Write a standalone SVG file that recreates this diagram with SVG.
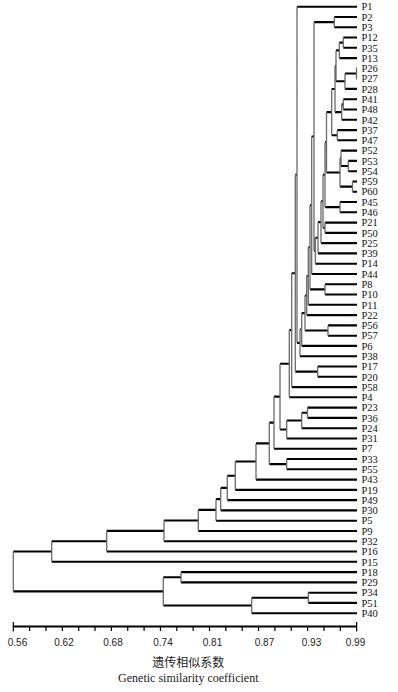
<svg xmlns="http://www.w3.org/2000/svg" width="398" height="692" viewBox="0 0 398 692">
<style>
.h{fill:none;stroke:#000;stroke-width:2.1}
.v{fill:none;stroke:#6a6a6a;stroke-width:1.3}
.lab{font-family:"Liberation Serif","Times New Roman",serif;font-size:10.5px;fill:#111}
.tk{font-family:"Liberation Sans",Arial,sans-serif;font-size:10px;fill:#222;text-anchor:middle}
.ax{fill:none;stroke:#000}
</style>
<rect width="398" height="692" fill="#fff"/>
<g id="connectors">
<path class="h" d="M297 6.7H357M334.3 17H357M334.3 27.3H357M343.3 37.5H357M343.3 47.8H357M339.3 58.1H357M356.5 68.4H357M356.5 78.7H357M345 88.9H357M343.3 99.2H357M343.3 109.5H357M341.7 119.8H357M337.3 130.1H357M337.3 140.3H357M341 150.6H357M348.3 160.9H357M348.3 171.2H357M352.5 181.5H357M352.5 191.7H357M340 202H357M340 212.3H357M325 222.6H357M325 232.9H357M321 243.1H357M318 253.4H357M315.3 263.7H357M311.7 274H357M325 284.3H357M325 294.5H357M308.3 304.8H357M306.7 315.1H357M328 325.4H357M328 335.7H357M301.7 345.9H357M300 356.2H357M317.7 366.5H357M317.7 376.8H357M291.7 387.1H357M289.3 397.3H357M307.5 407.6H357M307.5 417.9H357M301.7 428.2H357M286.7 438.5H357M274 448.7H357M286.7 459H357M286.7 469.3H357M256 479.6H357M235.3 489.9H357M227.3 500.1H357M220.7 510.4H357M216 520.7H357M198.3 531H357M164 541.3H357M106.7 551.5H357M51.7 561.8H357M181 572.1H357M181 582.4H357M308.3 592.7H357M308.3 602.9H357M251.7 613.2H357"/>
<path class="h" d="M339.3 42.65H343.3M336 50.4H339.3M345 73.55H356.5M336 81.2H345M335 65.8H336M341.7 104.35H343.3M335 112.1H341.7M331.7 88.95H335M331.7 135.2H337.3M326.5 112.1H331.7M341 166.05H348.3M340 158.3H341M340 186.6H352.5M326.5 172.45H340M325 142.3H326.5M325 207.15H340M323 174.7H325M323 227.75H325M321 201.2H323M318 222.15H321M315.3 237.8H318M314 250.75H315.3M314 22.15H334.3M311.7 136.45H314M310 205.2H311.7M310 289.4H325M308.3 247.3H310M306.7 276.05H308.3M305 295.6H306.7M305 330.55H328M301.7 313.1H305M300 329.5H301.7M297 342.85H300M295.3 174.8H297M295.3 371.65H317.7M291.7 273.2H295.3M289.3 330.15H291.7M280 363.7H289.3M301.7 412.75H307.5M286.7 420.5H301.7M280 429.5H286.7M274 396.6H280M269.3 422.65H274M269.3 464.15H286.7M256 443.4H269.3M235.3 461.5H256M227.3 475.7H235.3M220.7 487.9H227.3M216 499.15H220.7M198.3 509.9H216M164 520.45H198.3M106.7 530.9H164M51.7 541.2H106.7M13.3 551.5H51.7M163.3 577.25H181M251.7 597.8H308.3M163.3 605.5H251.7M13.3 591.4H163.3"/>
<path class="v" d="M343.3 37.5V47.8M339.3 42.65V58.1M356.5 68.4V78.7M345 73.55V88.9M336 50.4V81.2M343.3 99.2V109.5M341.7 104.35V119.8M335 65.8V112.1M337.3 130.1V140.3M331.7 88.95V135.2M348.3 160.9V171.2M341 150.6V166.05M352.5 181.5V191.7M340 158.3V186.6M326.5 112.1V172.45M340 202V212.3M325 142.3V207.15M325 222.6V232.9M323 174.7V227.75M321 201.2V243.1M318 222.15V253.4M315.3 237.8V263.7M334.3 17V27.3M314 22.15V250.75M311.7 136.45V274M325 284.3V294.5M310 205.2V289.4M308.3 247.3V304.8M306.7 276.05V315.1M328 325.4V335.7M305 295.6V330.55M301.7 313.1V345.9M300 329.5V356.2M297 6.7V342.85M317.7 366.5V376.8M295.3 174.8V371.65M291.7 273.2V387.1M289.3 330.15V397.3M307.5 407.6V417.9M301.7 412.75V428.2M286.7 420.5V438.5M280 363.7V429.5M274 396.6V448.7M286.7 459V469.3M269.3 422.65V464.15M256 443.4V479.6M235.3 461.5V489.9M227.3 475.7V500.1M220.7 487.9V510.4M216 499.15V520.7M198.3 509.9V531M164 520.45V541.3M106.7 530.9V551.5M51.7 541.2V561.8M181 572.1V582.4M308.3 592.7V602.9M251.7 597.8V613.2M163.3 577.25V605.5M13.3 551.5V591.4"/>
</g>
<g id="leaves" class="lab">
<g id="leaf-P1"><text x="361.5" y="10.4">P1</text></g>
<g id="leaf-P2"><text x="361.5" y="20.7">P2</text></g>
<g id="leaf-P3"><text x="361.5" y="31">P3</text></g>
<g id="leaf-P12"><text x="361.5" y="41.2">P12</text></g>
<g id="leaf-P35"><text x="361.5" y="51.5">P35</text></g>
<g id="leaf-P13"><text x="361.5" y="61.8">P13</text></g>
<g id="leaf-P26"><text x="361.5" y="72.1">P26</text></g>
<g id="leaf-P27"><text x="361.5" y="82.4">P27</text></g>
<g id="leaf-P28"><text x="361.5" y="92.6">P28</text></g>
<g id="leaf-P41"><text x="361.5" y="102.9">P41</text></g>
<g id="leaf-P48"><text x="361.5" y="113.2">P48</text></g>
<g id="leaf-P42"><text x="361.5" y="123.5">P42</text></g>
<g id="leaf-P37"><text x="361.5" y="133.8">P37</text></g>
<g id="leaf-P47"><text x="361.5" y="144">P47</text></g>
<g id="leaf-P52"><text x="361.5" y="154.3">P52</text></g>
<g id="leaf-P53"><text x="361.5" y="164.6">P53</text></g>
<g id="leaf-P54"><text x="361.5" y="174.9">P54</text></g>
<g id="leaf-P59"><text x="361.5" y="185.2">P59</text></g>
<g id="leaf-P60"><text x="361.5" y="195.4">P60</text></g>
<g id="leaf-P45"><text x="361.5" y="205.7">P45</text></g>
<g id="leaf-P46"><text x="361.5" y="216">P46</text></g>
<g id="leaf-P21"><text x="361.5" y="226.3">P21</text></g>
<g id="leaf-P50"><text x="361.5" y="236.6">P50</text></g>
<g id="leaf-P25"><text x="361.5" y="246.8">P25</text></g>
<g id="leaf-P39"><text x="361.5" y="257.1">P39</text></g>
<g id="leaf-P14"><text x="361.5" y="267.4">P14</text></g>
<g id="leaf-P44"><text x="361.5" y="277.7">P44</text></g>
<g id="leaf-P8"><text x="361.5" y="288">P8</text></g>
<g id="leaf-P10"><text x="361.5" y="298.2">P10</text></g>
<g id="leaf-P11"><text x="361.5" y="308.5">P11</text></g>
<g id="leaf-P22"><text x="361.5" y="318.8">P22</text></g>
<g id="leaf-P56"><text x="361.5" y="329.1">P56</text></g>
<g id="leaf-P57"><text x="361.5" y="339.4">P57</text></g>
<g id="leaf-P6"><text x="361.5" y="349.6">P6</text></g>
<g id="leaf-P38"><text x="361.5" y="359.9">P38</text></g>
<g id="leaf-P17"><text x="361.5" y="370.2">P17</text></g>
<g id="leaf-P20"><text x="361.5" y="380.5">P20</text></g>
<g id="leaf-P58"><text x="361.5" y="390.8">P58</text></g>
<g id="leaf-P4"><text x="361.5" y="401">P4</text></g>
<g id="leaf-P23"><text x="361.5" y="411.3">P23</text></g>
<g id="leaf-P36"><text x="361.5" y="421.6">P36</text></g>
<g id="leaf-P24"><text x="361.5" y="431.9">P24</text></g>
<g id="leaf-P31"><text x="361.5" y="442.2">P31</text></g>
<g id="leaf-P7"><text x="361.5" y="452.4">P7</text></g>
<g id="leaf-P33"><text x="361.5" y="462.7">P33</text></g>
<g id="leaf-P55"><text x="361.5" y="473">P55</text></g>
<g id="leaf-P43"><text x="361.5" y="483.3">P43</text></g>
<g id="leaf-P19"><text x="361.5" y="493.6">P19</text></g>
<g id="leaf-P49"><text x="361.5" y="503.8">P49</text></g>
<g id="leaf-P30"><text x="361.5" y="514.1">P30</text></g>
<g id="leaf-P5"><text x="361.5" y="524.4">P5</text></g>
<g id="leaf-P9"><text x="361.5" y="534.7">P9</text></g>
<g id="leaf-P32"><text x="361.5" y="545">P32</text></g>
<g id="leaf-P16"><text x="361.5" y="555.2">P16</text></g>
<g id="leaf-P15"><text x="361.5" y="565.5">P15</text></g>
<g id="leaf-P18"><text x="361.5" y="575.8">P18</text></g>
<g id="leaf-P29"><text x="361.5" y="586.1">P29</text></g>
<g id="leaf-P34"><text x="361.5" y="596.4">P34</text></g>
<g id="leaf-P51"><text x="361.5" y="606.6">P51</text></g>
<g id="leaf-P40"><text x="361.5" y="616.9">P40</text></g>
</g>
<g id="axis">
<path class="ax" stroke-width="2" d="M13.3 626.5H356.7"/>
<path class="ax" stroke-width="1.2" d="M13.3 622V631.5M29.65 626V631M46 626V631M62.35 626V631M78.7 626V631M95.05 626V631M111.4 626V631M127.75 626V631M144.1 626V631M160.45 626V631M176.8 626V631M193.15 626V631M209.5 626V631M225.85 626V631M242.2 626V631M258.55 626V631M274.9 626V631M291.25 626V631M307.6 626V631M323.95 626V631M340.3 626V631M356.65 622V631.5"/>
<text class="tk" x="17.5" y="645.5">0.56</text>
<text class="tk" x="64" y="645.5">0.62</text>
<text class="tk" x="113" y="645.5">0.68</text>
<text class="tk" x="163" y="645.5">0.74</text>
<text class="tk" x="212.5" y="645.5">0.81</text>
<text class="tk" x="264.5" y="645.5">0.87</text>
<text class="tk" x="311.5" y="645.5">0.93</text>
<text class="tk" x="355.5" y="645.5">0.99</text>
</g>
<g id="title">
<text x="188.3" y="666.5" text-anchor="middle" font-family="'Noto Sans CJK SC','Noto Sans CJK JP',sans-serif" font-size="12" fill="#222">遗传相似系数</text>
<text x="188.3" y="682" text-anchor="middle" font-family="'Liberation Serif','Times New Roman',serif" font-size="12" fill="#222">Genetic similarity coefficient</text>
</g>
</svg>
